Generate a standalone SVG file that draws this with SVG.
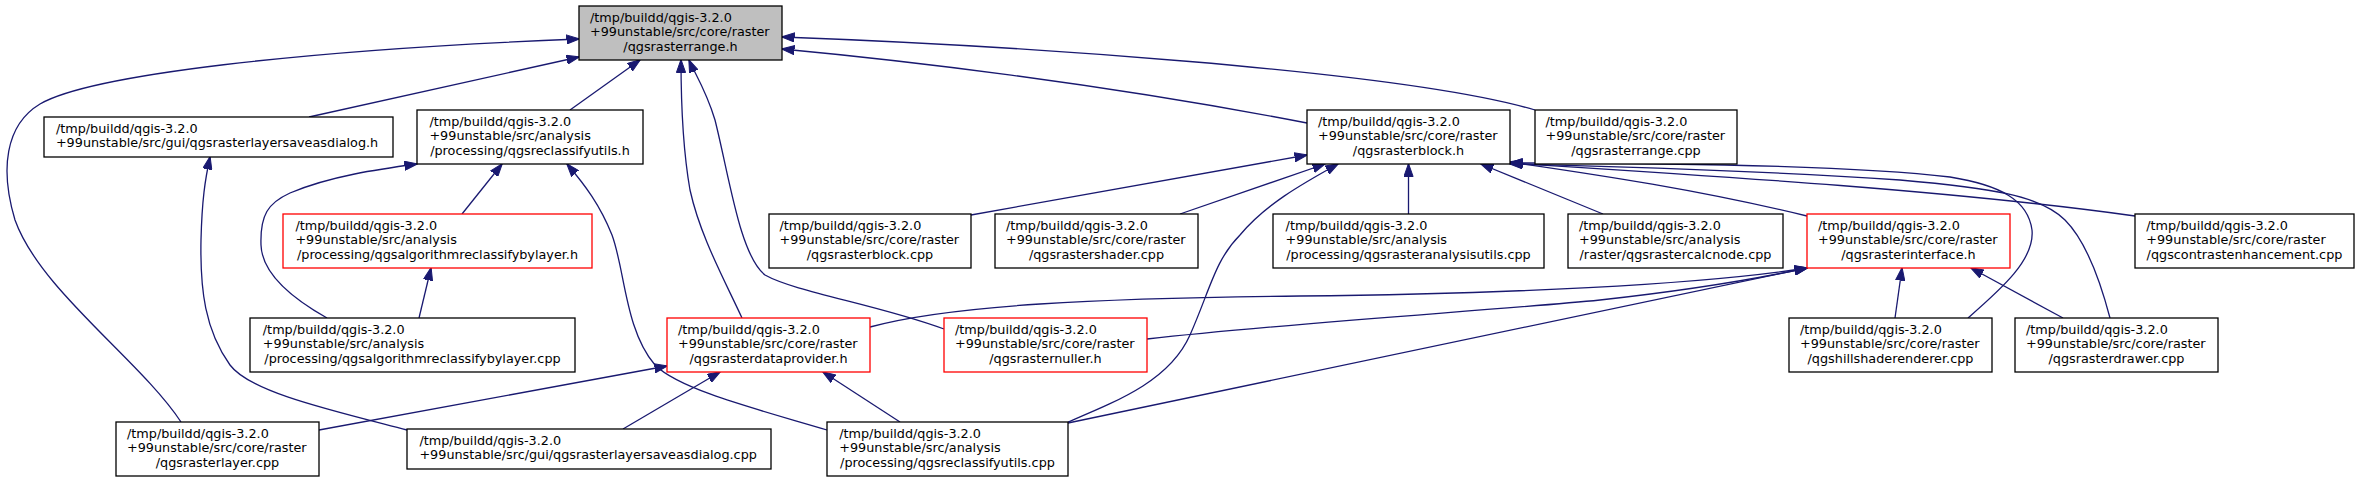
<svg xmlns="http://www.w3.org/2000/svg" width="2360" height="483" viewBox="0 0 2360 483">
<style>
.n rect{fill:#fff;stroke:#000;stroke-width:1.3}
.n.r rect{stroke:#f00}
.n.m rect{fill:#bfbfbf}
.n text{font-family:"DejaVu Sans",sans-serif;font-size:12.8px;fill:#000}
.n text.c{text-anchor:middle}
.e path{fill:none;stroke:#191970;stroke-width:1.3;marker-end:url(#a)}
</style>
<defs>
<marker id="a" markerUnits="userSpaceOnUse" viewBox="0 0 13 10" markerWidth="13" markerHeight="10" refX="12.5" refY="5" orient="auto">
<path d="M0,0.4 L13,5 L0,9.6 z" fill="#191970" stroke="#191970" stroke-width="1"/>
</marker>
</defs>
<rect width="2360" height="483" fill="#fff"/>
<g id="edges" class="e">
<path d="M181,422 C140,360 40,290 15,220 C0,170 5,125 40,104 C90,75 300,50 579,39"/>
<path d="M309,117 L579,57"/>
<path d="M570,110 L640,60"/>
<path d="M742,318 C722,275 700,235 690,190 C683,150 681,100 681,60"/>
<path d="M944,329 C880,305 795,292 765,275 C740,255 730,180 715,120 C706,90 694,72 689,60"/>
<path d="M1307,123 C1100,83 900,60 782,49"/>
<path d="M1535,110 C1400,70 1000,45 782,37"/>
<path d="M462,214 L502,164"/>
<path d="M327,318 C295,300 262,275 261,245 C260,215 268,203 290,193 C330,176 380,169 417,164"/>
<path d="M827,430 C760,410 680,390 655,365 C625,330 625,270 612,235 C600,205 585,185 567,164"/>
<path d="M419,318 L431,268"/>
<path d="M407,430 C330,410 250,392 230,365 C205,330 200,290 201,240 C202,200 205,180 210,157"/>
<path d="M319,430 L667,366"/>
<path d="M623,429 L720,372"/>
<path d="M900,422 L823,372"/>
<path d="M971,215 L1307,155"/>
<path d="M1180,214 L1325,164"/>
<path d="M1408.5,214 L1408.5,164"/>
<path d="M1603,214 L1481,164"/>
<path d="M1807,216 C1700,190 1600,175 1510,162"/>
<path d="M2135,216 C1950,190 1700,175 1510,163"/>
<path d="M1968,318 C2000,290 2035,260 2032,230 C2028,200 2000,185 1950,177 C1850,165 1650,163 1510,163"/>
<path d="M2110,318 C2100,280 2085,240 2065,220 C2040,195 1990,188 1900,180 C1750,170 1600,166 1510,164"/>
<path d="M1068,422 C1120,400 1170,380 1190,335 C1210,290 1215,260 1240,235 C1265,205 1300,185 1338,164"/>
<path d="M870,327 C950,305 1100,298 1300,296 C1500,294 1700,285 1807,268"/>
<path d="M1147,339 C1300,322 1500,310 1600,300 C1700,289 1760,278 1807,268"/>
<path d="M1068,423 L1807,268"/>
<path d="M1895,318 L1902,268"/>
<path d="M2063,318 L1971,268"/>
</g>
<g id="n0" class="n m"><rect x="579" y="6" width="203" height="54"/><text x="590" y="21.7">/tmp/buildd/qgis-3.2.0</text><text x="590" y="36.2">+99unstable/src/core/raster</text><text class="c" x="680.5" y="50.7">/qgsrasterrange.h</text></g>
<g id="n1" class="n"><rect x="44" y="117" width="349" height="40"/><text x="55.9" y="132.7">/tmp/buildd/qgis-3.2.0</text><text x="55.9" y="146.7">+99unstable/src/gui/qgsrasterlayersaveasdialog.h</text></g>
<g id="n2" class="n"><rect x="417" y="110" width="226" height="54"/><text x="429.4" y="125.7">/tmp/buildd/qgis-3.2.0</text><text x="429.4" y="140.2">+99unstable/src/analysis</text><text class="c" x="530" y="154.7">/processing/qgsreclassifyutils.h</text></g>
<g id="n3" class="n"><rect x="1307" y="110" width="203" height="54"/><text x="1318" y="125.7">/tmp/buildd/qgis-3.2.0</text><text x="1318" y="140.2">+99unstable/src/core/raster</text><text class="c" x="1408.5" y="154.7">/qgsrasterblock.h</text></g>
<g id="n4" class="n"><rect x="1535" y="110" width="202" height="54"/><text x="1545.5" y="125.7">/tmp/buildd/qgis-3.2.0</text><text x="1545.5" y="140.2">+99unstable/src/core/raster</text><text class="c" x="1636" y="154.7">/qgsrasterrange.cpp</text></g>
<g id="n5" class="n r"><rect x="283" y="214" width="309" height="54"/><text x="295.4" y="229.7">/tmp/buildd/qgis-3.2.0</text><text x="295.4" y="244.2">+99unstable/src/analysis</text><text class="c" x="437.5" y="258.7">/processing/qgsalgorithmreclassifybylayer.h</text></g>
<g id="n6" class="n"><rect x="769" y="214" width="202" height="54"/><text x="779.5" y="229.7">/tmp/buildd/qgis-3.2.0</text><text x="779.5" y="244.2">+99unstable/src/core/raster</text><text class="c" x="870" y="258.7">/qgsrasterblock.cpp</text></g>
<g id="n7" class="n"><rect x="995" y="214" width="203" height="54"/><text x="1006" y="229.7">/tmp/buildd/qgis-3.2.0</text><text x="1006" y="244.2">+99unstable/src/core/raster</text><text class="c" x="1096.5" y="258.7">/qgsrastershader.cpp</text></g>
<g id="n8" class="n"><rect x="1273" y="214" width="271" height="54"/><text x="1285.6" y="229.7">/tmp/buildd/qgis-3.2.0</text><text x="1285.6" y="244.2">+99unstable/src/analysis</text><text class="c" x="1408.5" y="258.7">/processing/qgsrasteranalysisutils.cpp</text></g>
<g id="n9" class="n"><rect x="1568" y="214" width="215" height="54"/><text x="1579" y="229.7">/tmp/buildd/qgis-3.2.0</text><text x="1579" y="244.2">+99unstable/src/analysis</text><text class="c" x="1675.5" y="258.7">/raster/qgsrastercalcnode.cpp</text></g>
<g id="n10" class="n r"><rect x="1807" y="214" width="203" height="54"/><text x="1818" y="229.7">/tmp/buildd/qgis-3.2.0</text><text x="1818" y="244.2">+99unstable/src/core/raster</text><text class="c" x="1908.5" y="258.7">/qgsrasterinterface.h</text></g>
<g id="n11" class="n"><rect x="2135" y="214" width="219" height="54"/><text x="2146.2" y="229.7">/tmp/buildd/qgis-3.2.0</text><text x="2146.2" y="244.2">+99unstable/src/core/raster</text><text class="c" x="2244.5" y="258.7">/qgscontrastenhancement.cpp</text></g>
<g id="n12" class="n"><rect x="250" y="318" width="325" height="54"/><text x="262.8" y="333.7">/tmp/buildd/qgis-3.2.0</text><text x="262.8" y="348.2">+99unstable/src/analysis</text><text class="c" x="412.5" y="362.7">/processing/qgsalgorithmreclassifybylayer.cpp</text></g>
<g id="n13" class="n r"><rect x="667" y="318" width="203" height="54"/><text x="678" y="333.7">/tmp/buildd/qgis-3.2.0</text><text x="678" y="348.2">+99unstable/src/core/raster</text><text class="c" x="768.5" y="362.7">/qgsrasterdataprovider.h</text></g>
<g id="n14" class="n r"><rect x="944" y="318" width="203" height="54"/><text x="955" y="333.7">/tmp/buildd/qgis-3.2.0</text><text x="955" y="348.2">+99unstable/src/core/raster</text><text class="c" x="1045.5" y="362.7">/qgsrasternuller.h</text></g>
<g id="n15" class="n"><rect x="1789" y="318" width="203" height="54"/><text x="1800" y="333.7">/tmp/buildd/qgis-3.2.0</text><text x="1800" y="348.2">+99unstable/src/core/raster</text><text class="c" x="1890.5" y="362.7">/qgshillshaderenderer.cpp</text></g>
<g id="n16" class="n"><rect x="2015" y="318" width="203" height="54"/><text x="2026" y="333.7">/tmp/buildd/qgis-3.2.0</text><text x="2026" y="348.2">+99unstable/src/core/raster</text><text class="c" x="2116.5" y="362.7">/qgsrasterdrawer.cpp</text></g>
<g id="n17" class="n"><rect x="116" y="422" width="203" height="54"/><text x="127" y="437.7">/tmp/buildd/qgis-3.2.0</text><text x="127" y="452.2">+99unstable/src/core/raster</text><text class="c" x="217.5" y="466.7">/qgsrasterlayer.cpp</text></g>
<g id="n18" class="n"><rect x="407" y="429" width="364" height="40"/><text x="419.4" y="444.7">/tmp/buildd/qgis-3.2.0</text><text x="419.4" y="458.7">+99unstable/src/gui/qgsrasterlayersaveasdialog.cpp</text></g>
<g id="n19" class="n"><rect x="827" y="422" width="241" height="54"/><text x="839.2" y="437.7">/tmp/buildd/qgis-3.2.0</text><text x="839.2" y="452.2">+99unstable/src/analysis</text><text class="c" x="947.5" y="466.7">/processing/qgsreclassifyutils.cpp</text></g>
</svg>
